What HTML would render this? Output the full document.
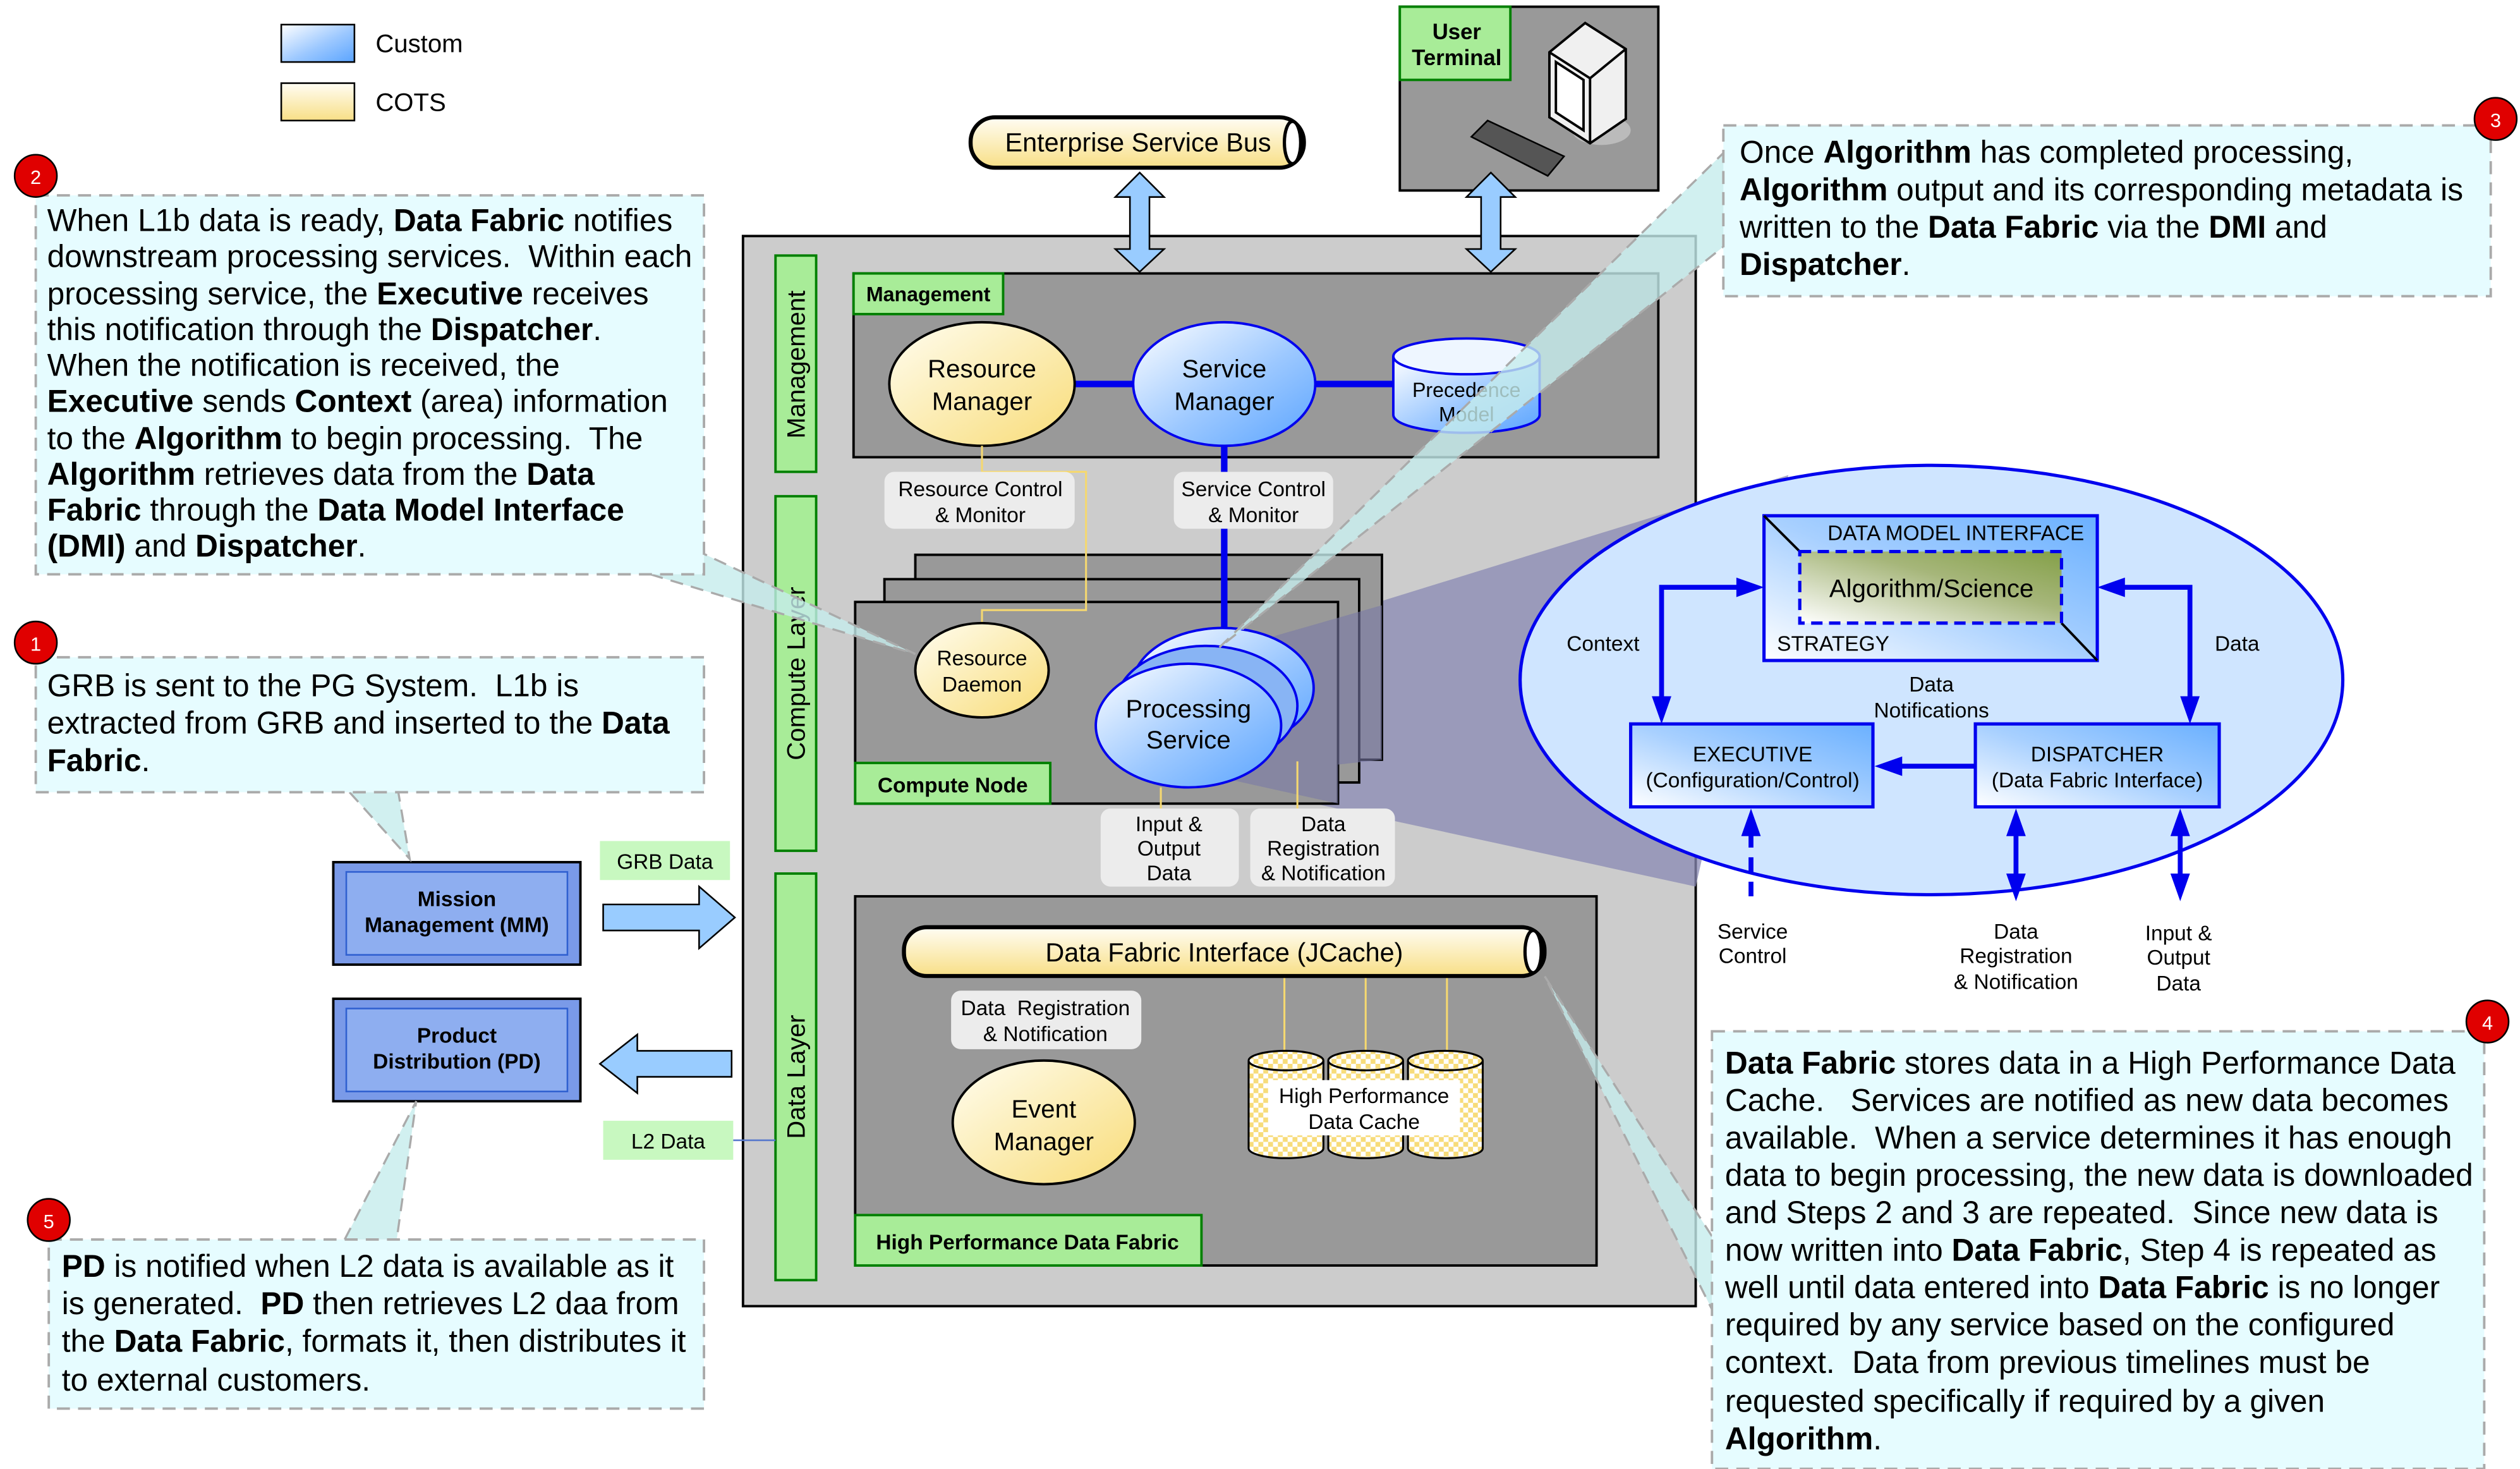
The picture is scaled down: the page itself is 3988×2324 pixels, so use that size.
<!DOCTYPE html>
<html><head><meta charset="utf-8"><style>
html,body{margin:0;padding:0;background:#fff;}
svg{display:block;}
text{font-family:"Liberation Sans",Arial,sans-serif;white-space:pre;}
</style></head><body>
<svg width="3988" height="2324" viewBox="0 0 1550 903" xmlns="http://www.w3.org/2000/svg">
<defs>
<linearGradient id="bl" x1="0" y1="0" x2="1" y2="1"><stop offset="0" stop-color="#ffffff"/><stop offset="0.55" stop-color="#9cc8ff"/><stop offset="1" stop-color="#5aa4ff"/></linearGradient>
<linearGradient id="blb" x1="0" y1="1" x2="1" y2="0"><stop offset="0" stop-color="#ffffff"/><stop offset="0.5" stop-color="#a8d0ff"/><stop offset="1" stop-color="#6ab0ff"/></linearGradient>
<linearGradient id="yl" x1="0" y1="0" x2="1" y2="1"><stop offset="0" stop-color="#fffdf0"/><stop offset="1" stop-color="#f8dc78"/></linearGradient>
<linearGradient id="ylv" x1="0" y1="0" x2="0" y2="1"><stop offset="0" stop-color="#fffdf4"/><stop offset="1" stop-color="#f8df86"/></linearGradient>
<linearGradient id="gr" x1="0" y1="1" x2="1" y2="0"><stop offset="0" stop-color="#ffffff"/><stop offset="0.6" stop-color="#a6b67a"/><stop offset="1" stop-color="#84a048"/></linearGradient>
<pattern id="chk" width="6" height="6" patternUnits="userSpaceOnUse"><rect width="6" height="6" fill="#fff"/><rect width="3" height="3" fill="#f7dc7a"/><rect x="3" y="3" width="3" height="3" fill="#f7dc7a"/></pattern>
</defs>

<!-- legend -->
<rect x="173" y="15" width="45" height="23" fill="url(#bl)" stroke="#000"/>
<text x="231" y="32" font-size="15.6">Custom</text>
<rect x="173" y="51" width="45" height="23" fill="url(#ylv)" stroke="#000"/>
<text x="231" y="68" font-size="15.6">COTS</text>

<!-- main gray box -->
<rect x="457" y="145" width="586" height="658" fill="#cccccc" stroke="#000" stroke-width="1.5"/>

<!-- purple zoom wedge -->
<polygon points="735,405 1100,292 1043,545 735,478" fill="#8a8ab4" opacity="0.75"/>

<!-- ESB -->
<rect x="597" y="72" width="205" height="31" rx="15" fill="url(#ylv)" stroke="#000" stroke-width="2.5"/>
<ellipse cx="795" cy="87.5" rx="5" ry="13" fill="#fff" stroke="#000" stroke-width="2"/>
<text x="700" y="93" font-size="16.1" text-anchor="middle">Enterprise Service Bus</text>

<!-- user terminal -->
<rect x="861" y="4" width="159" height="113" fill="#999" stroke="#000" stroke-width="1.5"/>
<rect x="861" y="4" width="68" height="45" fill="#a8ec98" stroke="#008000" stroke-width="1.5"/>
<text x="896" y="24" font-size="13.5" font-weight="bold" text-anchor="middle">User</text>
<text x="896" y="40" font-size="13.5" font-weight="bold" text-anchor="middle">Terminal</text>
<ellipse cx="985" cy="80" rx="18" ry="9" fill="#bbb"/>
<polygon points="953,32 975,14 1000,30 1000,73 978,88 953,72" fill="#f0f0f0" stroke="#000" stroke-width="1.5"/>
<polyline points="953,32 978,48 1000,30" fill="none" stroke="#000" stroke-width="1.5"/>
<line x1="978" y1="48" x2="978" y2="88" stroke="#000" stroke-width="1.5"/>
<polygon points="957,38 974,49 974,80 957,69" fill="#fff" stroke="#000" stroke-width="1.5"/>
<polygon points="905,84 915,74 962,96 952,108" fill="#555" stroke="#000"/>

<!-- double arrows -->
<g fill="#99ccff" stroke="#000" stroke-width="1">
<polygon points="701,106 716,121 707,121 707,153 716,153 701,167 686,153 695,153 695,121 686,121"/>
<polygon points="917,106 932,121 923,121 923,153 932,153 917,167 902,153 911,153 911,121 902,121"/>
</g>

<!-- layer labels -->
<g stroke="#008000" stroke-width="1.5" fill="#a8ec98">
<rect x="477" y="157" width="25" height="133"/>
<rect x="477" y="305" width="25" height="218"/>
<rect x="477" y="537" width="25" height="250"/>
</g>
<text transform="translate(495,224) rotate(-90)" font-size="15.6" text-anchor="middle">Management</text>
<text transform="translate(495,414) rotate(-90)" font-size="15.6" text-anchor="middle">Compute Layer</text>
<text transform="translate(495,662) rotate(-90)" font-size="15.6" text-anchor="middle">Data Layer</text>

<!-- management box -->
<rect x="525" y="168" width="495" height="113" fill="#999" stroke="#000" stroke-width="1.5"/>
<rect x="525" y="168" width="92" height="25" fill="#a8ec98" stroke="#008000" stroke-width="1.5"/>
<text x="571" y="185" font-size="12.5" font-weight="bold" text-anchor="middle">Management</text>
<line x1="660" y1="236" x2="700" y2="236" stroke="#0000ee" stroke-width="4"/>
<line x1="808" y1="236" x2="858" y2="236" stroke="#0000ee" stroke-width="4"/>
<ellipse cx="604" cy="236" rx="57" ry="38" fill="url(#yl)" stroke="#000" stroke-width="1.5"/>
<text x="604" y="232" font-size="15.6" text-anchor="middle">Resource</text>
<text x="604" y="252" font-size="15.6" text-anchor="middle">Manager</text>
<ellipse cx="753" cy="236" rx="56" ry="38" fill="url(#bl)" stroke="#0000ee" stroke-width="1.5"/>
<text x="753" y="232" font-size="15.6" text-anchor="middle">Service</text>
<text x="753" y="252" font-size="15.6" text-anchor="middle">Manager</text>
<path d="M857,219 L857,255 A45,11 0 0 0 947,255 L947,219" fill="url(#bl)" stroke="#0000ee" stroke-width="1.5"/>
<ellipse cx="902" cy="219" rx="45" ry="11" fill="#eef6ff" stroke="#0000ee" stroke-width="1.5"/>
<text x="902" y="244" font-size="12.5" text-anchor="middle">Precedence</text>
<text x="902" y="259" font-size="12.5" text-anchor="middle">Model</text>

<!-- compute node stacks -->
<rect x="563" y="341" width="287" height="126" fill="#999" stroke="#000" stroke-width="1.5"/>
<rect x="544" y="356" width="292" height="125" fill="#999" stroke="#000" stroke-width="1.5"/>
<rect x="526" y="370" width="297" height="124" fill="#999" stroke="#000" stroke-width="1.5"/>
<polygon points="735,405 850,372 850,467 823,470 823,494 760,480 735,478" fill="#7a7aa6" opacity="0.6"/>
<rect x="526" y="469" width="120" height="25" fill="#a8ec98" stroke="#008000" stroke-width="1.5"/>
<text x="586" y="487" font-size="13" font-weight="bold" text-anchor="middle">Compute Node</text>

<!-- yellow control line -->
<polyline points="604,274 604,290 668,290 668,375 604,375 604,384" fill="none" stroke="#f5d870" stroke-width="1.2"/>
<line x1="753" y1="274" x2="753" y2="420" stroke="#0000ee" stroke-width="4"/>

<rect x="544" y="290" width="117" height="35" rx="6" fill="#ececec"/>
<text x="603" y="305" font-size="13" text-anchor="middle">Resource Control</text>
<text x="603" y="321" font-size="13" text-anchor="middle">&amp; Monitor</text>
<rect x="722" y="290" width="98" height="35" rx="6" fill="#ececec"/>
<text x="771" y="305" font-size="13" text-anchor="middle">Service Control</text>
<text x="771" y="321" font-size="13" text-anchor="middle">&amp; Monitor</text>

<ellipse cx="604" cy="412" rx="41" ry="29" fill="url(#yl)" stroke="#000" stroke-width="1.5"/>
<text x="604" y="409" font-size="13" text-anchor="middle">Resource</text>
<text x="604" y="425" font-size="13" text-anchor="middle">Daemon</text>

<ellipse cx="752" cy="423" rx="56" ry="37" fill="url(#bl)" stroke="#0000ee" stroke-width="1.5"/>
<ellipse cx="742" cy="434" rx="56" ry="37" fill="#88b4f4" stroke="#0000ee" stroke-width="1.5"/>
<ellipse cx="731" cy="446" rx="57" ry="38" fill="url(#bl)" stroke="#0000ee" stroke-width="1.5"/>
<text x="731" y="441" font-size="15.6" text-anchor="middle">Processing</text>
<text x="731" y="460" font-size="15.6" text-anchor="middle">Service</text>

<line x1="714" y1="484" x2="714" y2="497" stroke="#f5d870" stroke-width="1.2"/>
<line x1="798" y1="468" x2="798" y2="497" stroke="#f5d870" stroke-width="1.2"/>
<rect x="677" y="497" width="85" height="48" rx="6" fill="#ececec"/>
<text x="719" y="511" font-size="13" text-anchor="middle">Input &amp;</text>
<text x="719" y="526" font-size="13" text-anchor="middle">Output</text>
<text x="719" y="541" font-size="13" text-anchor="middle">Data</text>
<rect x="769" y="497" width="89" height="48" rx="6" fill="#ececec"/>
<text x="814" y="511" font-size="13" text-anchor="middle">Data</text>
<text x="814" y="526" font-size="13" text-anchor="middle">Registration</text>
<text x="814" y="541" font-size="13" text-anchor="middle">&amp; Notification</text>

<!-- data fabric box -->
<rect x="526" y="551" width="456" height="227" fill="#999" stroke="#000" stroke-width="1.5"/>
<rect x="526" y="747" width="213" height="31" fill="#a8ec98" stroke="#008000" stroke-width="1.5"/>
<text x="632" y="768" font-size="13" font-weight="bold" text-anchor="middle">High Performance Data Fabric</text>
<g stroke="#f5d870" stroke-width="1.2">
<line x1="790" y1="600" x2="790" y2="648"/><line x1="840" y1="600" x2="840" y2="648"/><line x1="890" y1="600" x2="890" y2="648"/>
</g>
<rect x="556" y="570" width="394" height="30" rx="14" fill="url(#ylv)" stroke="#000" stroke-width="2.5"/>
<ellipse cx="943" cy="585" rx="5" ry="13" fill="#fff" stroke="#000" stroke-width="2"/>
<text x="753" y="591" font-size="16.1" text-anchor="middle">Data Fabric Interface (JCache)</text>
<rect x="585" y="609" width="117" height="36" rx="6" fill="#ececec"/>
<text x="643" y="624" font-size="13" text-anchor="middle">Data  Registration</text>
<text x="643" y="640" font-size="13" text-anchor="middle">&amp; Notification</text>
<ellipse cx="642" cy="690" rx="56" ry="38" fill="url(#yl)" stroke="#000" stroke-width="1.5"/>
<text x="642" y="687" font-size="15.6" text-anchor="middle">Event</text>
<text x="642" y="707" font-size="15.6" text-anchor="middle">Manager</text>
<g stroke="#000" stroke-width="1.2" fill="url(#chk)">
<path d="M768,652 L768,706 A23,6 0 0 0 814,706 L814,652"/><ellipse cx="791" cy="652" rx="23" ry="6"/>
<path d="M817,652 L817,706 A23,6 0 0 0 863,706 L863,652"/><ellipse cx="840" cy="652" rx="23" ry="6"/>
<path d="M866,652 L866,706 A23,6 0 0 0 912,706 L912,652"/><ellipse cx="889" cy="652" rx="23" ry="6"/>
</g>
<rect x="780" y="664" width="118" height="34" fill="#fff"/>
<text x="839" y="678" font-size="13" text-anchor="middle">High Performance</text>
<text x="839" y="694" font-size="13" text-anchor="middle">Data Cache</text>

<!-- big ellipse -->
<ellipse cx="1188" cy="418" rx="253" ry="132" fill="#cfe5ff" stroke="#0000ee" stroke-width="2"/>
<rect x="1085" y="317" width="205" height="89" fill="url(#blb)" stroke="#0000ee" stroke-width="2"/>
<line x1="1085" y1="317" x2="1107" y2="339" stroke="#000" stroke-width="1.5"/>
<line x1="1268" y1="383" x2="1290" y2="406" stroke="#000" stroke-width="1.5"/>
<rect x="1107" y="339" width="161" height="44" fill="url(#gr)" stroke="#0000ee" stroke-width="2" stroke-dasharray="7,4"/>
<text x="1203" y="332" font-size="13" text-anchor="middle">DATA MODEL INTERFACE</text>
<text x="1188" y="367" font-size="15.6" text-anchor="middle">Algorithm/Science</text>
<text x="1093" y="400" font-size="13">STRATEGY</text>
<rect x="1003" y="445" width="149" height="51" fill="url(#blb)" stroke="#0000ee" stroke-width="2"/>
<text x="1078" y="468" font-size="13" text-anchor="middle">EXECUTIVE</text>
<text x="1078" y="484" font-size="13" text-anchor="middle">(Configuration/Control)</text>
<rect x="1215" y="445" width="150" height="51" fill="url(#blb)" stroke="#0000ee" stroke-width="2"/>
<text x="1290" y="468" font-size="13" text-anchor="middle">DISPATCHER</text>
<text x="1290" y="484" font-size="13" text-anchor="middle">(Data Fabric Interface)</text>
<g stroke="#0000ee" stroke-width="3" fill="none">
<polyline points="1022,430 1022,361 1070,361"/>
<polyline points="1305,361 1347,361 1347,430"/>
<line x1="1215" y1="471" x2="1168" y2="471"/>
<line x1="1077" y1="512" x2="1077" y2="555" stroke-dasharray="9,6"/>
<line x1="1240" y1="510" x2="1240" y2="540"/>
<line x1="1341" y1="510" x2="1341" y2="540"/>
</g>
<g fill="#0000ee">
<polygon points="1016,428 1028,428 1022,445"/>
<polygon points="1068,355 1068,367 1085,361"/>
<polygon points="1307,355 1307,367 1290,361"/>
<polygon points="1341,428 1353,428 1347,445"/>
<polygon points="1170,465 1170,477 1153,471"/>
<polygon points="1071,514 1083,514 1077,497"/>
<polygon points="1234,514 1246,514 1240,497"/><polygon points="1234,537 1246,537 1240,554"/>
<polygon points="1335,514 1347,514 1341,497"/><polygon points="1335,537 1347,537 1341,554"/>
</g>
<text x="986" y="400" font-size="13" text-anchor="middle">Context</text>
<text x="1376" y="400" font-size="13" text-anchor="middle">Data</text>
<text x="1188" y="425" font-size="13" text-anchor="middle">Data</text>
<text x="1188" y="441" font-size="13" text-anchor="middle">Notifications</text>
<text x="1078" y="577" font-size="13" text-anchor="middle">Service</text>
<text x="1078" y="592" font-size="13" text-anchor="middle">Control</text>
<text x="1240" y="577" font-size="13" text-anchor="middle">Data</text>
<text x="1240" y="592" font-size="13" text-anchor="middle">Registration</text>
<text x="1240" y="608" font-size="13" text-anchor="middle">&amp; Notification</text>
<text x="1340" y="578" font-size="13" text-anchor="middle">Input &amp;</text>
<text x="1340" y="593" font-size="13" text-anchor="middle">Output</text>
<text x="1340" y="609" font-size="13" text-anchor="middle">Data</text>

<!-- MM / PD -->
<rect x="369" y="517" width="80" height="24" fill="#c8f8c0"/>
<text x="409" y="534" font-size="13" text-anchor="middle">GRB Data</text>
<polygon points="371,556 430,556 430,545 452,564 430,583 430,572 371,572" fill="#99ccff" stroke="#000"/>
<rect x="205" y="530" width="152" height="63" fill="#7a9ae8" stroke="#000" stroke-width="1.5"/>
<rect x="213" y="536" width="136" height="51" fill="#8eaef0" stroke="#3060d0" stroke-width="1"/>
<text x="281" y="557" font-size="13" font-weight="bold" text-anchor="middle">Mission</text>
<text x="281" y="573" font-size="13" font-weight="bold" text-anchor="middle">Management (MM)</text>
<rect x="205" y="614" width="152" height="63" fill="#7a9ae8" stroke="#000" stroke-width="1.5"/>
<rect x="213" y="620" width="136" height="51" fill="#8eaef0" stroke="#3060d0" stroke-width="1"/>
<text x="281" y="641" font-size="13" font-weight="bold" text-anchor="middle">Product</text>
<text x="281" y="657" font-size="13" font-weight="bold" text-anchor="middle">Distribution (PD)</text>
<polygon points="450,646 392,646 392,636 369,654 392,672 392,662 450,662" fill="#99ccff" stroke="#000"/>
<rect x="371" y="689" width="80" height="24" fill="#c8f8c0"/>
<text x="411" y="706" font-size="13" text-anchor="middle">L2 Data</text>
<line x1="451" y1="701" x2="477" y2="701" stroke="#5577cc" stroke-width="1"/>

<!-- callout pointers -->
<g fill="#c6ecec" opacity="0.8">
<polygon points="400,353 432,340 563,402"/>
<polygon points="215,487 245,487 252,528"/>
<polygon points="1062,92 1062,150 750,398"/>
<polygon points="1053,760 1053,805 950,600"/>
<polygon points="212,762 244,762 256,677"/>
</g>
<g fill="none" stroke="#aaa" stroke-width="1.3" stroke-dasharray="8,5">
<polyline points="400,353 563,402 432,340"/>
<polyline points="215,487 252,528 245,487"/>
<polyline points="1062,92 750,398 1062,150"/>
<polyline points="1053,760 950,600 1053,805"/>
<polyline points="212,762 256,677 244,762"/>
</g>

<!-- callouts -->
<g fill="#e6fcff" stroke="#aaa" stroke-width="1.5" stroke-dasharray="8,5">
<rect x="22" y="120" width="411" height="233"/>
<rect x="22" y="404" width="411" height="83"/>
<rect x="1060" y="77" width="472" height="105"/>
<rect x="1053" y="634" width="475" height="269"/>
<rect x="30" y="762" width="403" height="104"/>
</g>
<g fill="#e00000" stroke="#000" stroke-width="1">
<circle cx="22" cy="108" r="13"/><circle cx="22" cy="395" r="13"/><circle cx="1535" cy="73" r="13"/><circle cx="1530" cy="628" r="13"/><circle cx="30" cy="750" r="13"/>
</g>
<g fill="#fff" font-size="12" text-anchor="middle">
<text x="22" y="113">2</text><text x="22" y="400">1</text><text x="1535" y="78">3</text><text x="1530" y="633">4</text><text x="30" y="755">5</text>
</g>

<g font-size="19.3">
<text x="29" y="142">When L1b data is ready, <tspan font-weight="bold">Data Fabric</tspan> notifies</text>
<text x="29" y="164">downstream processing services.  Within each</text>
<text x="29" y="187">processing service, the <tspan font-weight="bold">Executive</tspan> receives</text>
<text x="29" y="209">this notification through the <tspan font-weight="bold">Dispatcher</tspan>.</text>
<text x="29" y="231">When the notification is received, the</text>
<text x="29" y="253"><tspan font-weight="bold">Executive</tspan> sends <tspan font-weight="bold">Context</tspan> (area) information</text>
<text x="29" y="276">to the <tspan font-weight="bold">Algorithm</tspan> to begin processing.  The</text>
<text x="29" y="298"><tspan font-weight="bold">Algorithm</tspan> retrieves data from the <tspan font-weight="bold">Data</tspan></text>
<text x="29" y="320"><tspan font-weight="bold">Fabric</tspan> through the <tspan font-weight="bold">Data Model Interface</tspan></text>
<text x="29" y="342"><tspan font-weight="bold">(DMI)</tspan> and <tspan font-weight="bold">Dispatcher</tspan>.</text>

<text x="29" y="428">GRB is sent to the PG System.  L1b is</text>
<text x="29" y="451">extracted from GRB and inserted to the <tspan font-weight="bold">Data</tspan></text>
<text x="29" y="474"><tspan font-weight="bold">Fabric</tspan>.</text>

<text x="1070" y="100">Once <tspan font-weight="bold">Algorithm</tspan> has completed processing,</text>
<text x="1070" y="123"><tspan font-weight="bold">Algorithm</tspan> output and its corresponding metadata is</text>
<text x="1070" y="146">written to the <tspan font-weight="bold">Data Fabric</tspan> via the <tspan font-weight="bold">DMI</tspan> and</text>
<text x="1070" y="169"><tspan font-weight="bold">Dispatcher</tspan>.</text>

<text x="1061" y="660"><tspan font-weight="bold">Data Fabric</tspan> stores data in a High Performance Data</text>
<text x="1061" y="683">Cache.   Services are notified as new data becomes</text>
<text x="1061" y="706">available.  When a service determines it has enough</text>
<text x="1061" y="729">data to begin processing, the new data is downloaded</text>
<text x="1061" y="752">and Steps 2 and 3 are repeated.  Since new data is</text>
<text x="1061" y="775">now written into <tspan font-weight="bold">Data Fabric</tspan>, Step 4 is repeated as</text>
<text x="1061" y="798">well until data entered into <tspan font-weight="bold">Data Fabric</tspan> is no longer</text>
<text x="1061" y="821">required by any service based on the configured</text>
<text x="1061" y="844">context.  Data from previous timelines must be</text>
<text x="1061" y="868">requested specifically if required by a given</text>
<text x="1061" y="891"><tspan font-weight="bold">Algorithm</tspan>.</text>

<text x="38" y="785"><tspan font-weight="bold">PD</tspan> is notified when L2 data is available as it</text>
<text x="38" y="808">is generated.  <tspan font-weight="bold">PD</tspan> then retrieves L2 daa from</text>
<text x="38" y="831">the <tspan font-weight="bold">Data Fabric</tspan>, formats it, then distributes it</text>
<text x="38" y="855">to external customers.</text>
</g>
</svg>
</body></html>
